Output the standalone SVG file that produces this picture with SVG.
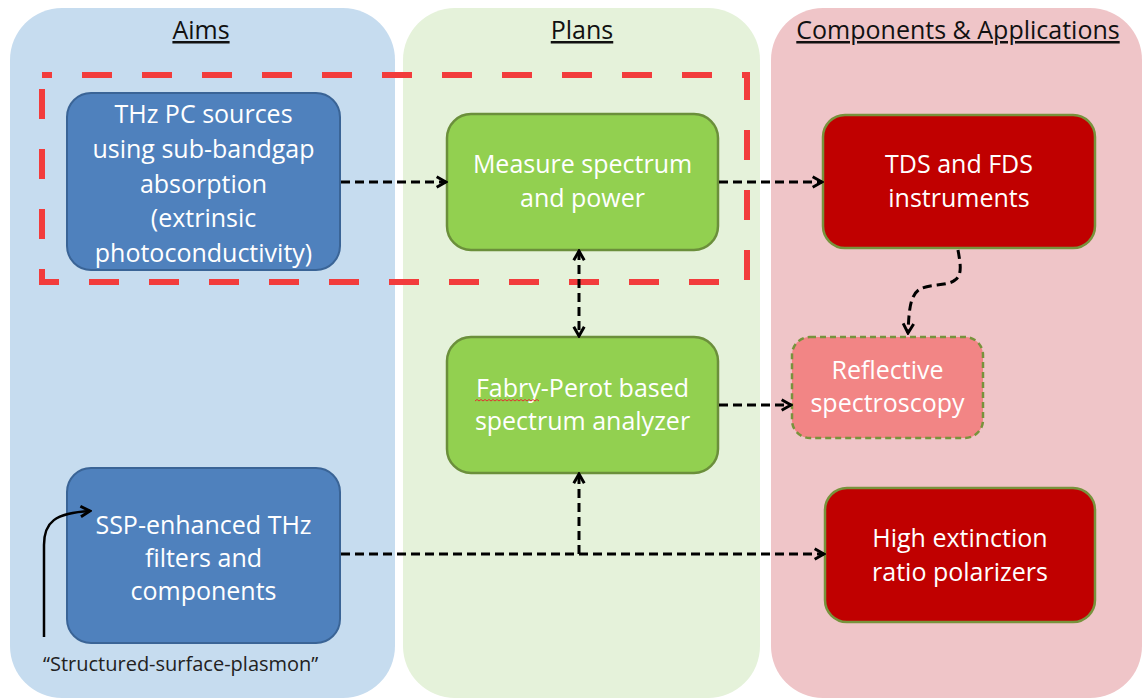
<svg xmlns="http://www.w3.org/2000/svg" width="1144" height="700" viewBox="0 0 1144 700">
  <defs>
    <style>
      .title { font-family: "Open Sans", "Liberation Sans", sans-serif; font-size: 25px; fill: #111; text-anchor: middle; text-decoration: underline; }
      .lbl { font-family: "Open Sans", "Liberation Sans", sans-serif; font-size: 25px; fill: #ffffff; text-anchor: middle; }
      .note { font-family: "Open Sans", "Liberation Sans", sans-serif; font-size: 20px; fill: #222; }
      .blue { fill: #4f81bd; stroke: #3a6496; stroke-width: 2; }
      .green { fill: #92d050; stroke: #6b8f3b; stroke-width: 2.5; }
      .red { fill: #c00000; stroke: #77933c; stroke-width: 2.5; }
      .pink { fill: #f28585; stroke: #77933c; stroke-width: 2.5; stroke-dasharray: 6 4; }
      .conn { fill: none; stroke: #000; stroke-width: 3; stroke-dasharray: 9 5; }
      .solid { fill: none; stroke: #000; stroke-width: 2.5; }
    </style>
    <marker id="arr" markerUnits="userSpaceOnUse" markerWidth="14" markerHeight="14" viewBox="-1 -1 12 12" refX="9" refY="5" orient="auto-start-reverse">
      <path d="M1,0.5 L9,5 L1,9.5" fill="none" stroke="#000" stroke-width="2.5"/>
    </marker>
  </defs>

  <g id="panels">
    <rect id="panel-aims" x="10" y="8" width="385" height="690" rx="52" fill="#c6dcef"/>
    <rect id="panel-plans" x="403" y="8" width="357" height="690" rx="52" fill="#e5f2da"/>
    <rect id="panel-components" x="771" y="8" width="371" height="690" rx="52" fill="#efc5c8"/>
    <text class="title" x="201" y="39">Aims</text>
    <text class="title" x="582" y="39">Plans</text>
    <text class="title" x="958" y="39">Components &amp; Applications</text>
  </g>

  <rect id="highlight" x="42" y="75" width="705" height="207" fill="none" stroke="#f23c3c" stroke-width="6" stroke-dasharray="30 30" stroke-dashoffset="20"/>

  <g id="node-thz-pc">
    <rect class="blue" x="67" y="93" width="273" height="177" rx="24"/>
    <text class="lbl" x="203.5" y="123">THz PC sources</text>
    <text class="lbl" x="203.5" y="158">using sub-bandgap</text>
    <text class="lbl" x="203.5" y="193">absorption</text>
    <text class="lbl" x="203.5" y="227">(extrinsic</text>
    <text class="lbl" x="203.5" y="262">photoconductivity)</text>
  </g>

  <g id="node-ssp">
    <rect class="blue" x="67" y="468" width="273" height="175" rx="24"/>
    <text class="lbl" x="203.5" y="534">SSP-enhanced THz</text>
    <text class="lbl" x="203.5" y="567">filters and</text>
    <text class="lbl" x="203.5" y="600">components</text>
  </g>

  <g id="node-measure">
    <rect class="green" x="447" y="114" width="271" height="136" rx="24"/>
    <text class="lbl" x="582.5" y="173">Measure spectrum</text>
    <text class="lbl" x="582.5" y="207">and power</text>
  </g>

  <g id="node-fabry">
    <rect class="green" x="447" y="337" width="271" height="136" rx="24"/>
    <text class="lbl" x="582.5" y="397">Fabry-Perot based</text>
    <text class="lbl" x="582.5" y="430">spectrum analyzer</text>
    <polyline points="475,401 477,399.5 479,401 481,399.5 483,401 485,399.5 487,401 489,399.5 491,401 493,399.5 495,401 497,399.5 499,401 501,399.5 503,401 505,399.5 507,401 509,399.5 511,401 513,399.5 515,401 517,399.5 519,401 521,399.5 523,401 525,399.5 527,401 529,399.5 531,401 533,399.5 535,401 537,399.5 539,401" fill="none" stroke="#e03030" stroke-width="1"/>
  </g>

  <g id="node-tds">
    <rect class="red" x="823" y="115" width="272" height="133" rx="22"/>
    <text class="lbl" x="959" y="173">TDS and FDS</text>
    <text class="lbl" x="959" y="207">instruments</text>
  </g>

  <g id="node-reflective">
    <rect class="pink" x="792" y="337" width="191" height="101" rx="18"/>
    <text class="lbl" x="887.5" y="379">Reflective</text>
    <text class="lbl" x="887.5" y="412">spectroscopy</text>
  </g>

  <g id="node-polarizers">
    <rect class="red" x="825" y="488" width="270" height="134" rx="22"/>
    <text class="lbl" x="960" y="547">High extinction</text>
    <text class="lbl" x="960" y="581">ratio polarizers</text>
  </g>

  <g id="note">
    <text class="note" x="43" y="671">“Structured-surface-plasmon”</text>
  </g>

  <g id="connectors">
    <path class="conn" d="M341,182 L446,182" marker-end="url(#arr)"/>
    <path class="conn" d="M719,182 L822,182" marker-end="url(#arr)"/>
    <path class="conn" d="M958,250 C960,262 963,275 955,280 C948,286 930,284 920,289 C910,295 909,310 908,333" marker-end="url(#arr)"/>
    <path class="conn" d="M579,251 L579,336" marker-start="url(#arr)" marker-end="url(#arr)"/>
    <path class="conn" d="M719,405 L791,405" marker-end="url(#arr)"/>
    <path class="conn" d="M341,554 L824,554" marker-end="url(#arr)"/>
    <path class="conn" d="M579,554 L579,474" marker-end="url(#arr)"/>
    <path class="solid" d="M44,637 L44,545 C44,522 55,513 90,511" marker-end="url(#arr)"/>
  </g>
</svg>
